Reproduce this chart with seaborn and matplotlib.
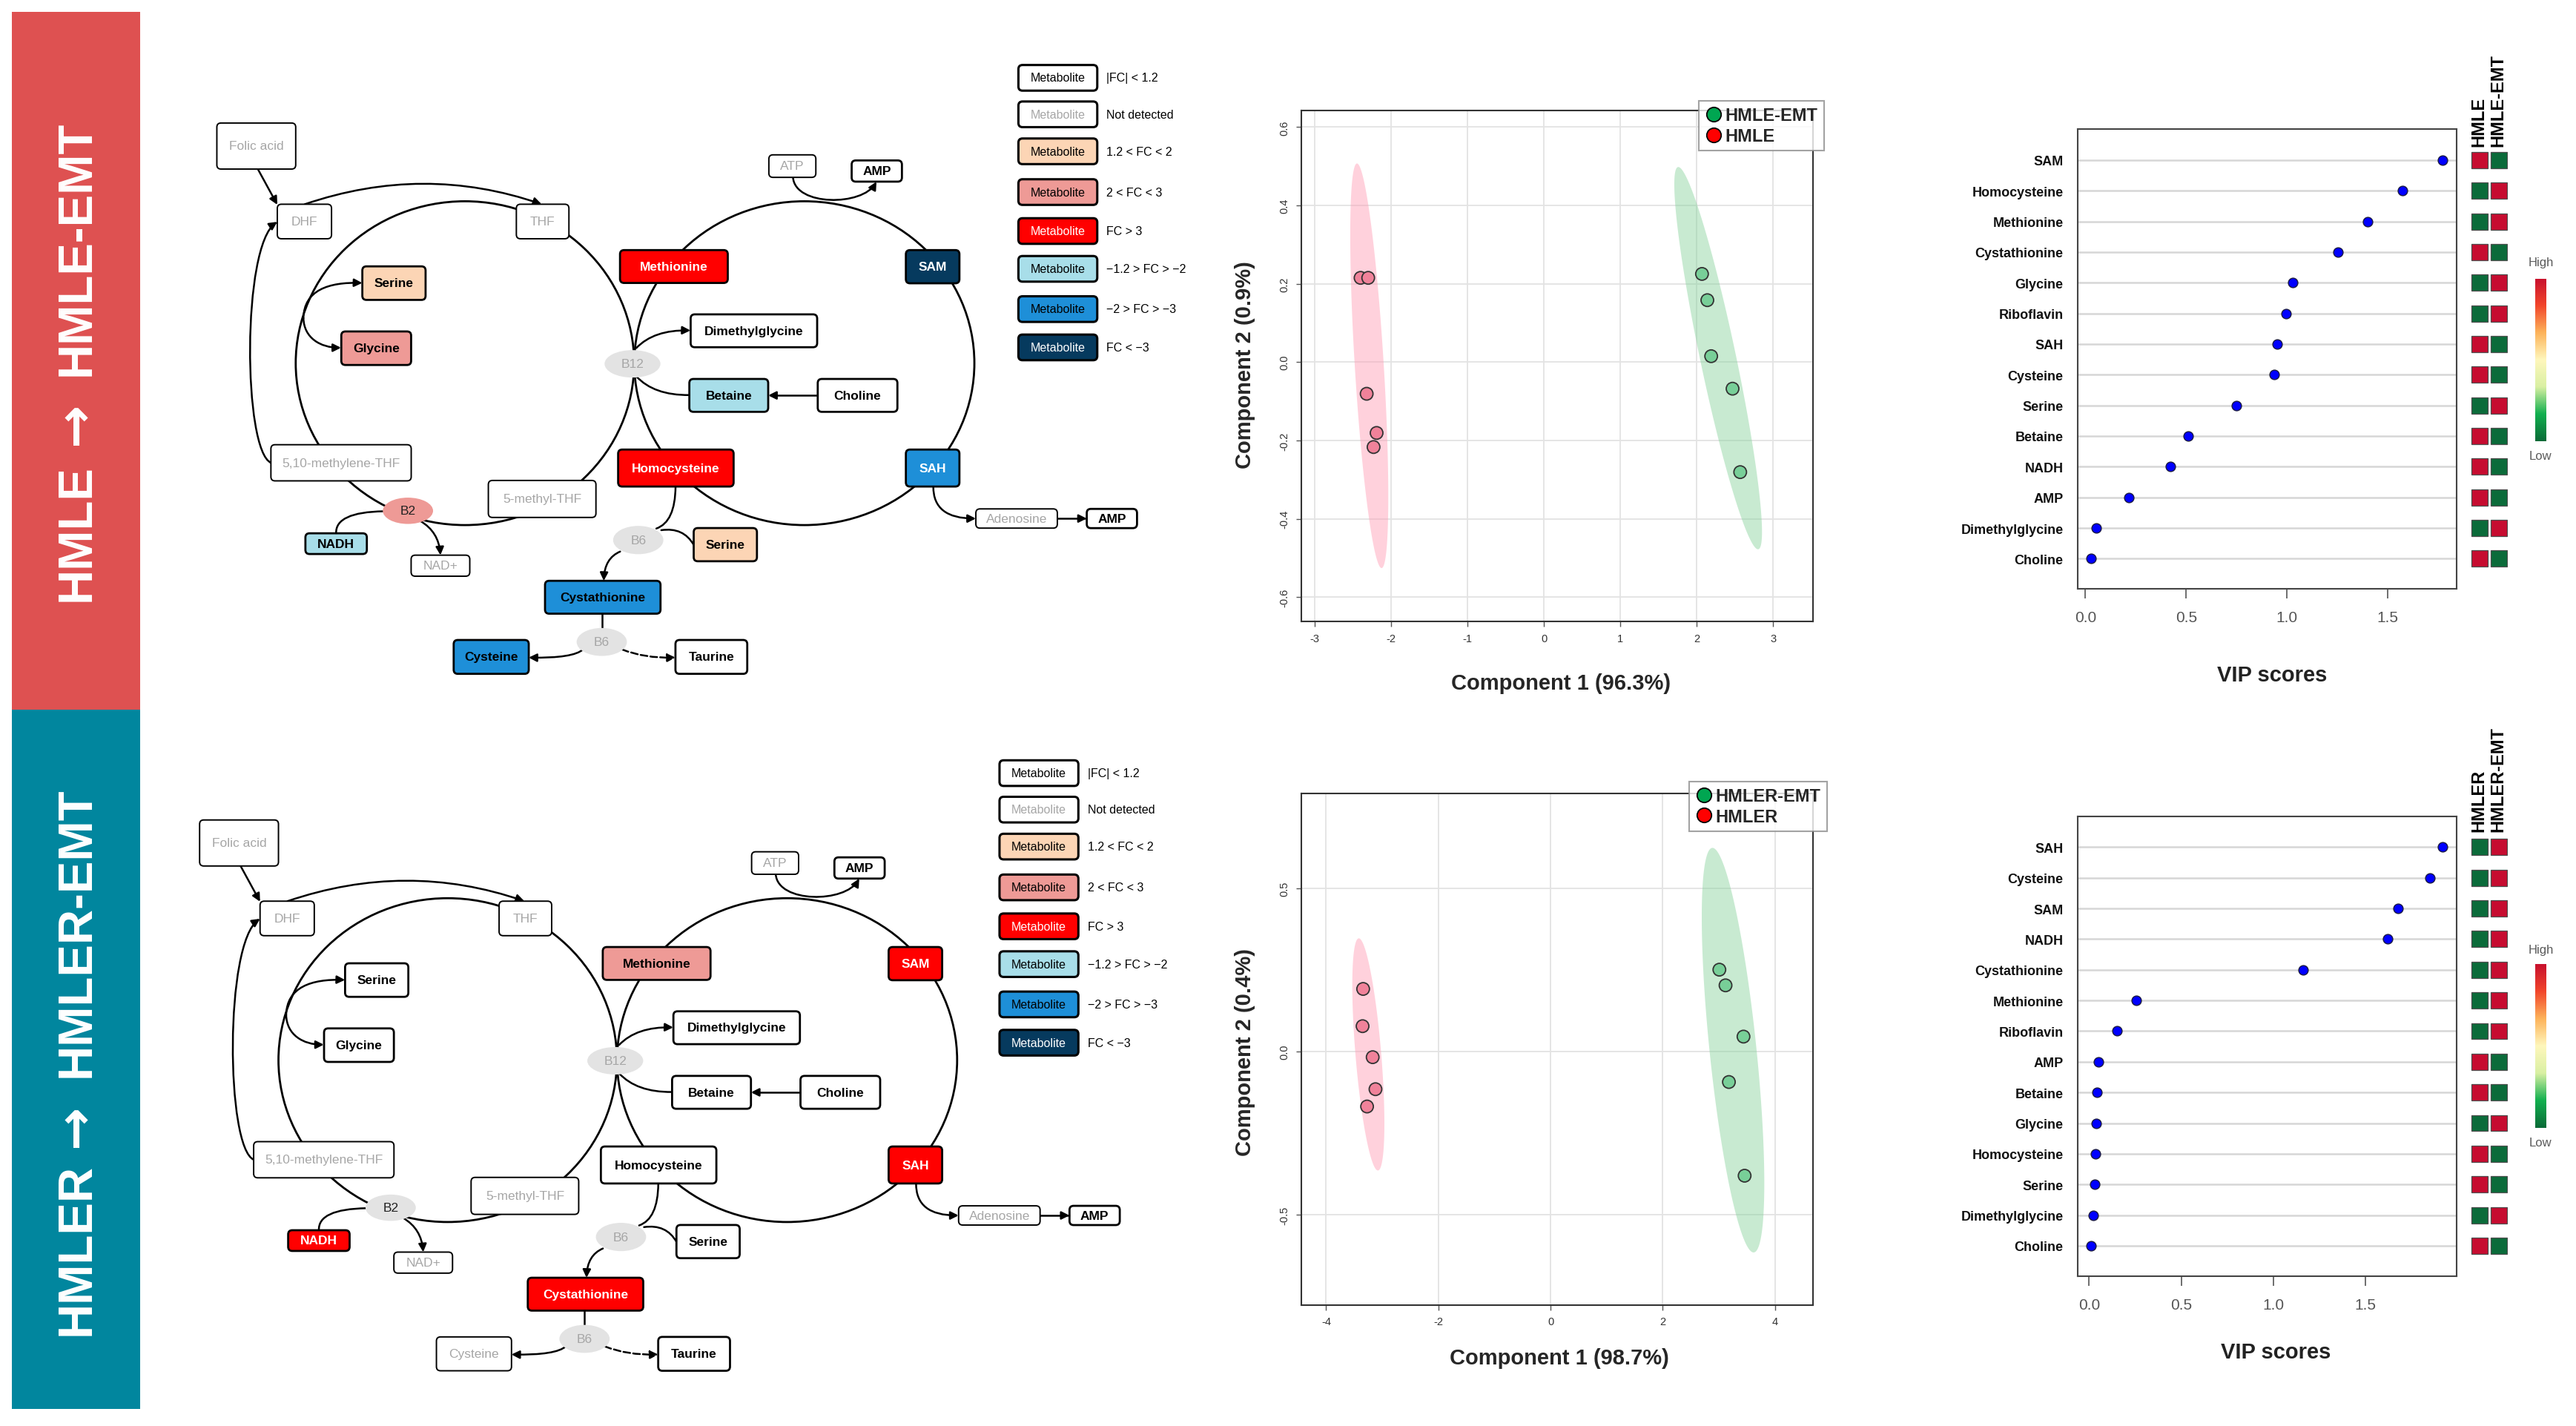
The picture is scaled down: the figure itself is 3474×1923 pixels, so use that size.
import numpy as np
import pandas as pd
import matplotlib
matplotlib.use("Agg")
import matplotlib.pyplot as plt
import seaborn as sns
from matplotlib.patches import FancyBboxPatch, Ellipse, Rectangle, FancyArrowPatch
from matplotlib.path import Path
from matplotlib.lines import Line2D
from matplotlib.colors import LinearSegmentedColormap

# ---------------- data ----------------
fc_classes = ["ns", "nd", "up1", "up2", "up3", "dn1", "dn2", "dn3"]
fc_labels = ["|FC| < 1.2", "Not detected", "1.2 < FC < 2", "2 < FC < 3", "FC > 3",
             "\u22121.2 > FC > \u22122", "\u22122 > FC > \u22123", "FC < \u22123"]
fc_fill = ["white", "white", "#FCD5B5", "#EE9A96", "#FF0000", "#A8DEE9", "#1E8FD8", "#063A5E"]
fc_text = ["black", "#A6A6A6", "black", "black", "white", "black", "black", "white"]

metabolites = ["Folic acid", "DHF", "THF", "Serine", "Glycine", "5,10-methylene-THF", "NADH", "NAD+",
               "5-methyl-THF", "Methionine", "SAM", "ATP", "AMP", "Dimethylglycine", "Betaine", "Choline",
               "Homocysteine", "SAH", "Adenosine", "AMP", "Serine", "Cystathionine", "Cysteine", "Taurine"]
status_hmle = ["nd", "nd", "nd", "up1", "up2", "nd", "dn1", "nd", "nd", "up3", "dn3", "nd", "ns", "ns",
               "dn1", "ns", "up3", "dn2", "nd", "ns", "up1", "dn2", "dn2", "ns"]
status_hmler = ["nd", "nd", "nd", "ns", "ns", "nd", "up3", "nd", "nd", "up2", "up3", "nd", "ns", "ns",
                "ns", "ns", "ns", "up3", "nd", "ns", "ns", "up3", "nd", "ns"]
cofactors = ["B2", "B12", "B6", "B6"]
cof_status_hmle = ["up2", "nd", "nd", "nd"]
cof_status_hmler = ["ns", "nd", "nd", "nd"]

# PLS-DA scores (component 1, component 2)
hmle_c1 = [-2.40, -2.30, -2.32, -2.19, -2.23]
hmle_c2 = [0.215, 0.215, -0.081, -0.181, -0.217]
hmle_emt_c1 = [2.07, 2.14, 2.19, 2.47, 2.57]
hmle_emt_c2 = [0.225, 0.158, 0.015, -0.068, -0.281]
hmler_c1 = [-3.34, -3.35, -3.17, -3.12, -3.27]
hmler_c2 = [0.192, 0.078, -0.017, -0.115, -0.168]
hmler_emt_c1 = [3.01, 3.12, 3.44, 3.18, 3.46]
hmler_emt_c2 = [0.251, 0.203, 0.046, -0.093, -0.380]
# confidence ellipses: two tips of the long axis + half width along component 1
ell_hmle = [(-2.447, 0.507), (-2.125, -0.526), 0.19]
ell_hmle_emt = [(1.76, 0.498), (2.803, -0.478), 0.24]
ell_hmler = [(-3.417, 0.347), (-3.077, -0.364), 0.23]
ell_hmler_emt = [(2.887, 0.624), (3.62, -0.615), 0.42]

# VIP scores
vip_names_hmle = ["SAM", "Homocysteine", "Methionine", "Cystathionine", "Glycine", "Riboflavin", "SAH",
                  "Cysteine", "Serine", "Betaine", "NADH", "AMP", "Dimethylglycine", "Choline"]
vip_hmle = [1.773, 1.573, 1.399, 1.254, 1.028, 0.997, 0.953, 0.935, 0.749, 0.511, 0.42, 0.214, 0.055, 0.028]
high_hmle = [1, 0, 0, 1, 0, 0, 1, 1, 0, 1, 1, 1, 0, 1]   # 1 = HMLE high, EMT low
vip_names_hmler = ["SAH", "Cysteine", "SAM", "NADH", "Cystathionine", "Methionine", "Riboflavin", "AMP",
                   "Betaine", "Glycine", "Homocysteine", "Serine", "Dimethylglycine", "Choline"]
vip_hmler = [1.92, 1.851, 1.679, 1.621, 1.16, 0.258, 0.152, 0.049, 0.044, 0.040, 0.035, 0.031, 0.022, 0.011]
high_hmler = [0, 0, 0, 0, 0, 0, 0, 1, 1, 0, 1, 1, 0, 1]

# ---------------- layout (reference coords, 1568 x 868 grid) ----------------
box_layout = [(156, 89.3, 48, 28), (185.3, 135.2, 33, 21), (330.3, 135.2, 32, 21),
              (239.8, 172.7, 38.5, 20.4), (229, 212.3, 42.5, 20.4), (207.6, 282, 85.4, 22),
              (204.6, 331.2, 37.4, 12.6), (268.1, 344.6, 35.7, 12.8), (330, 304, 65.5, 22.5),
              (410.2, 162.6, 65.6, 20), (567.7, 162.7, 32.6, 20.2), (482.3, 101.5, 28.6, 13.7),
              (533.7, 104.5, 30.6, 12.9), (458.9, 201.7, 77, 20), (443.6, 241, 48, 20),
              (522, 241, 48.5, 20), (411.4, 285.2, 70.3, 22.5), (567.7, 285.2, 32.6, 22.5),
              (618.8, 315.9, 49.6, 11.7), (676.8, 315.9, 30.6, 11.7), (441.5, 331.8, 38.5, 20.2),
              (366.9, 363.8, 70.3, 20), (299, 400.1, 45.7, 20.6), (433, 400.1, 43.7, 20.6)]
cof_layout = [(248.3, 311.2, 30.6, 16), (385, 221.8, 34, 16.7), (388.5, 329, 30.6, 17.2),
              (366.3, 391, 30.6, 17)]
circle_layout = [(283, 221.4, 206, 197), (489.6, 221.4, 207, 197)]
connectors = [
    ([(157, 103.4), (168.8, 125)], "arrow"),
    ([(185.5, 124.7), (258, 100), (329.7, 124.7)], "arrow"),
    ([(165, 282), (148, 275), (147, 150), (168.8, 135.4)], "arrow"),
    ([(184.7, 194), (185, 177), (200, 172), (220.5, 172.6)], "arrow"),
    ([(184.7, 194), (185, 206), (195, 212), (207.6, 212)], "arrow"),
    ([(387.3, 212.2), (398, 201), (420.3, 201.5)], "arrow"),
    ([(419.5, 240.8), (398, 241), (387.3, 229.4)], "line"),
    ([(497.8, 241), (467.6, 241)], "arrow"),
    ([(482.7, 108.4), (484, 126), (525, 126), (533.5, 111)], "arrow"),
    ([(568.1, 296.5), (568, 316), (594, 315.9)], "arrow"),
    ([(643.6, 315.9), (661.5, 315.9)], "arrow"),
    ([(411.2, 296.5), (411, 318), (399.5, 322)], "line"),
    ([(402.5, 323), (416, 321), (422.3, 332)], "line"),
    ([(377.5, 336), (368, 340), (367.5, 353.8)], "arrow"),
    ([(366.3, 373.8), (366.3, 382.5)], "line"),
    ([(355, 395.5), (349, 401), (321.8, 400.5)], "arrow"),
    ([(378.5, 395.5), (392, 401), (411.2, 400.5)], "dash"),
    ([(204.6, 324.9), (204, 312), (233.5, 311.5)], "line"),
    ([(256, 317.5), (267, 324), (268.1, 338.2)], "arrow"),
]
legend_rows = [47.8, 70, 92.5, 117.3, 141, 164, 188.5, 211.8]

sns.set_theme(style="white")
plt.rcParams['font.family'] = ['Liberation Sans', 'DejaVu Sans']
plt.rcParams['axes.unicode_minus'] = False

W, H = 3474, 1924
fig = plt.figure(figsize=(W / 100, H / 100), dpi=100)
fig.patch.set_facecolor("white")


def frac(x0, y0, x1, y1):
    return [x0 / 1568, 1 - y1 / 868, (x1 - x0) / 1568, (y1 - y0) / 868]


ax0 = fig.add_axes([0, 0, 1, 1])
ax0.set_xlim(0, 1568)
ax0.set_ylim(868, 0)
ax0.axis("off")

# side banners
ax0.add_patch(Rectangle((7.2, 7.7), 78.1, 424.3, fc="#DE5151", ec="none"))
ax0.add_patch(Rectangle((7.2, 432), 78.1, 425.5, fc="#01869E", ec="none"))
for word, yc in [("HMLE", 324), ("HMLE-EMT", 151), ("HMLER", 760), ("HMLER-EMT", 567)]:
    ax0.text(46.7, yc, word, rotation=90, ha="center", va="center", color="white",
             fontsize=47, fontweight="bold")
for yc in [257.5, 685]:
    ax0.text(46.3, yc, "\u2192", rotation=90, ha="center", va="center", color="white",
             fontsize=50, fontweight="bold", family="DejaVu Sans")


def draw_pathway(status, cof_status, dx, dy):
    for cx, cy, w, h in circle_layout:
        ax0.add_patch(Ellipse((cx + dx, cy + dy), w, h, fill=False, ec="black", lw=2.0, zorder=1))
    for pts, kind in connectors:
        pts = [(x + dx, y + dy) for x, y in pts]
        codes = {2: [Path.MOVETO, Path.LINETO], 3: [Path.MOVETO, Path.CURVE3, Path.CURVE3],
                 4: [Path.MOVETO, Path.CURVE4, Path.CURVE4, Path.CURVE4]}[len(pts)]
        style = "-" if kind == "line" else "-|>"
        ax0.add_patch(FancyArrowPatch(path=Path(pts, codes), arrowstyle=style, mutation_scale=16,
                                      lw=1.8, color="black", ls="--" if kind == "dash" else "-",
                                      zorder=2))
    for name, st, (cx, cy, w, h) in zip(cofactors, cof_status, cof_layout):
        fill = "#EE9A96" if st == "up2" else "#E3E3E3"
        tc = "#A6A6A6" if st == "nd" else "#222222"
        ax0.add_patch(Ellipse((cx + dx, cy + dy), w, h, fc=fill, ec="none", zorder=3))
        ax0.text(cx + dx, cy + dy, name, ha="center", va="center", fontsize=12.5, color=tc, zorder=5)
    for name, st, (cx, cy, w, h) in zip(metabolites, status, box_layout):
        k = fc_classes.index(st)
        ax0.add_patch(FancyBboxPatch((cx + dx - w / 2, cy + dy - h / 2), w, h,
                                     boxstyle="round,pad=0,rounding_size=2.5", fc=fc_fill[k],
                                     ec="black", lw=1.4 if st == "nd" else 2.0, zorder=4))
        tc = "white" if (st == "dn2" and name == "SAH") else fc_text[k]
        ax0.text(cx + dx, cy + dy, name, ha="center", va="center", fontsize=12.5, color=tc,
                 fontweight="normal" if st == "nd" else "bold", zorder=5)


def draw_fc_legend(dx, dy):
    for y, lab, fill, tc in zip(legend_rows, fc_labels, fc_fill, fc_text):
        ax0.add_patch(FancyBboxPatch((619.9 + dx, y + dy - 7.8), 48, 15.6,
                                     boxstyle="round,pad=0,rounding_size=2.5", fc=fill,
                                     ec="black", lw=2.2, zorder=4))
        ax0.text(643.9 + dx, y + dy, "Metabolite", ha="center", va="center", fontsize=11.5,
                 color=tc, zorder=5)
        ax0.text(673.6 + dx, y + dy, lab, ha="left", va="center", fontsize=11.5, color="black")


draw_pathway(status_hmle, cof_status_hmle, 0, 0)
draw_fc_legend(0, 0)
draw_pathway(status_hmler, cof_status_hmler, -10.5, 424)
draw_fc_legend(-11.5, 423)


def pls_panel(rect, c1a, c2a, c1b, c2b, names, ell_a, ell_b, xlim, ylim, xticks, yticks,
              xlab, ylab, xlab_pos, ylab_pos, leg_anchor):
    ax = fig.add_axes(frac(*rect))
    ax.set_axisbelow(True)
    ax.grid(True, color="#E3E3E3", lw=1.3)
    t = np.linspace(0, 2 * np.pi, 300)
    for (p1, p2, hw), col in [(ell_a, "#FF9AB3"), (ell_b, "#85D29B")]:
        cx, cy = (p1[0] + p2[0]) / 2, (p1[1] + p2[1]) / 2
        ux, uy = (p1[0] - p2[0]) / 2, (p1[1] - p2[1]) / 2
        ax.fill(cx + ux * np.cos(t) + hw * np.sin(t), cy + uy * np.cos(t), color=col, alpha=0.45,
                lw=0, zorder=1)
    df = pd.DataFrame({"c1": c1a + c1b, "c2": c2a + c2b,
                       "group": [names[0]] * len(c1a) + [names[1]] * len(c1b)})
    sns.scatterplot(data=df, x="c1", y="c2", hue="group",
                    palette={names[0]: "#F0829A", names[1]: "#78CF98"}, s=150,
                    edgecolor="#333333", linewidth=1.3, legend=False, ax=ax, zorder=3)
    ax.set_xlim(*xlim)
    ax.set_ylim(*ylim)
    ax.set_xticks(xticks)
    ax.set_yticks(yticks)
    ax.set_xticklabels([f"{v:g}" for v in xticks])
    ax.set_yticklabels([f"{v:.1f}" for v in yticks])
    ax.tick_params(axis="both", length=5, width=1, color="#555555", labelsize=10.5,
                   labelcolor="#333333", bottom=True, left=True, pad=6)
    ax.tick_params(axis="y", labelrotation=90)
    for lab in ax.get_yticklabels():
        lab.set_va("center")
    for s in ax.spines.values():
        s.set_color("#333333")
        s.set_linewidth(1.5)
    ax.set_xlabel(xlab, fontsize=21, fontweight="bold", va="center")
    ax.set_ylabel(ylab, fontsize=21, fontweight="bold", va="center")
    ax.xaxis.set_label_coords(*xlab_pos)
    ax.yaxis.set_label_coords(*ylab_pos)
    handles = [Line2D([], [], marker="o", ls="", markerfacecolor="#00A651", markeredgecolor="black",
                      markersize=14, mew=1.3),
               Line2D([], [], marker="o", ls="", markerfacecolor="#FF0000", markeredgecolor="black",
                      markersize=14, mew=1.3)]
    leg = ax.legend(handles, [names[1], names[0]], loc="upper right", bbox_to_anchor=leg_anchor,
                    frameon=True, fancybox=False, edgecolor="#8C8C8C",
                    prop={"weight": "bold", "size": 17}, handletextpad=0.15, borderpad=0.35,
                    labelspacing=0.2, handlelength=1.0, borderaxespad=0)
    leg.get_frame().set_linewidth(1.5)
    return ax


pls_panel((792, 67.5, 1103.6, 378.7), hmle_c1, hmle_c2, hmle_emt_c1, hmle_emt_c2,
          ["HMLE", "HMLE-EMT"], ell_hmle, ell_hmle_emt, (-3.178, 3.524), (-0.663, 0.643),
          [-3, -2, -1, 0, 1, 2, 3], [-0.6, -0.4, -0.2, 0.0, 0.2, 0.4, 0.6],
          "Component 1 (96.3%)", "Component 2 (0.9%)", (0.508, -0.119), (-0.109, 0.503),
          (1.021, 1.018))
pls_panel((792, 483.3, 1103.6, 794.4), hmler_c1, hmler_c2, hmler_emt_c1, hmler_emt_c2,
          ["HMLER", "HMLER-EMT"], ell_hmler, ell_hmler_emt, (-4.445, 4.68), (-0.776, 0.79),
          [-4, -2, 0, 2, 4], [-0.5, 0.0, 0.5],
          "Component 1 (98.7%)", "Component 2 (0.4%)", (0.505, -0.103), (-0.109, 0.496),
          (1.027, 1.024))

heat_cmap = LinearSegmentedColormap.from_list(
    "hl", ["#0A6B37", "#12B04F", "#D9F0A3", "#FFF7BC", "#FDB35A", "#F2462B", "#C8102E"])


def vip_panel(rect, names, vip, high, cols, xlim, xlab_pos, col_label_y, cbar_y, hi_y, lo_y):
    n = len(names)
    ax = fig.add_axes(frac(*rect))
    ax.set_axisbelow(True)
    ax.yaxis.grid(True, color="#D6D6D6", lw=1.8)
    ax.xaxis.grid(False)
    df = pd.DataFrame({"vip": vip, "row": np.arange(n)})
    sns.scatterplot(data=df, x="vip", y="row", color="#0000FF", edgecolor="#1A1A40", s=85,
                    linewidth=1.0, ax=ax, zorder=3)
    ax.set_ylim(n - 0.01, -1.01)
    ax.set_xlim(*xlim)
    ax.set_yticks(range(n))
    ax.set_yticklabels(names, fontweight="bold", fontsize=13, color="#111111")
    ax.set_xticks([0, 0.5, 1.0, 1.5])
    ax.set_xticklabels(["0.0", "0.5", "1.0", "1.5"])
    ax.tick_params(axis="y", length=0, pad=14)
    ax.tick_params(axis="x", length=9, width=1.2, color="#555555", labelsize=15,
                   labelcolor="#555555", bottom=True, pad=12)
    for s in ax.spines.values():
        s.set_color("#444444")
        s.set_linewidth(1.5)
    ax.set_xlabel("VIP scores", fontsize=21, fontweight="bold", va="center", color="#222222")
    ax.set_ylabel("")
    ax.xaxis.set_label_coords(*xlab_pos)

    hx = fig.add_axes(frac(1503.8, rect[1], 1526.6, rect[3]))
    hx.set_xlim(0, 2)
    hx.set_ylim(n - 0.01, -1.01)
    hx.axis("off")
    for i in range(n):
        for j, v in enumerate([high[i], 1 - high[i]]):
            hx.add_patch(Rectangle((j + 0.065, i - 0.265), 0.87, 0.53,
                                   fc="#C60C30" if v else "#0B6B3A", ec="#4D4D4D", lw=0.9))
    for x, c in zip([1508.8, 1520.4], cols):
        ax0.text(x, col_label_y, c, rotation=90, ha="center", va="bottom", fontsize=17,
                 fontweight="bold", color="black")
    cx = fig.add_axes(frac(1543.2, cbar_y[0], 1549.9, cbar_y[1]))
    cx.imshow(np.linspace(1, 0, 256)[:, None], aspect="auto", cmap=heat_cmap)
    cx.axis("off")
    ax0.text(1546.5, hi_y, "High", ha="center", va="center", fontsize=12, color="#5A5A5A")
    ax0.text(1546.5, lo_y, "Low", ha="center", va="center", fontsize=12, color="#5A5A5A")


vip_panel((1264.7, 79, 1495.5, 358.8), vip_names_hmle, vip_hmle, high_hmle, ["HMLE", "HMLE-EMT"],
          (-0.038, 1.843), (0.513, -0.187), 89.3, (170, 269), 160, 277.5)
vip_panel((1264.7, 497, 1495.5, 776.8), vip_names_hmler, vip_hmler, high_hmler,
          ["HMLER", "HMLER-EMT"], (-0.062, 1.997), (0.5225, -0.165), 506.1, (587, 686.5), 578, 695.5)

fig.savefig("out.png", dpi=100, facecolor="white")
